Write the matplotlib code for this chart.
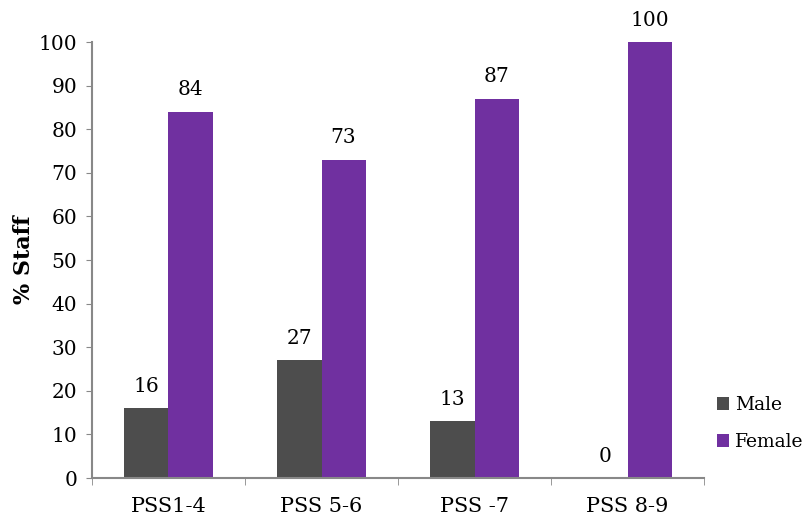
import matplotlib
matplotlib.use("Agg")
import matplotlib.pyplot as plt
import numpy as np

categories = ["PSS1-4", "PSS 5-6", "PSS -7", "PSS 8-9"]
male = [16, 27, 13, 0]
female = [84, 73, 87, 100]

plt.rcParams['font.family'] = ['DejaVu Serif']

fig = plt.figure(figsize=(8.09, 5.18), dpi=100)
ax = fig.add_axes([0.1137, 0.0772, 0.7566, 0.8417])

x = np.arange(len(categories))
w = 0.288
b1 = ax.bar(x - w / 2, male, w, color='#4d4d4d', label='Male')
b2 = ax.bar(x + w / 2, female, w, color='#7030a0', label='Female')

for bars in (b1, b2):
    for r in bars:
        h = r.get_height()
        ax.annotate('%d' % h, (r.get_x() + r.get_width() / 2, h),
                    xytext=(0, 9), textcoords='offset points',
                    ha='center', va='bottom', fontsize=14.5)

ax.set_xlim(-0.5, 3.5)
ax.set_ylim(0, 100)
ax.set_yticks(range(0, 101, 10))
ax.tick_params(axis='y', labelsize=14.5, color='#888888', length=4.5, pad=6)
ax.set_xticks(x)
ax.set_xticklabels(categories, fontsize=15)
ax.set_xticks(np.arange(-0.5, 4, 1), minor=True)
ax.tick_params(axis='x', which='major', length=0, pad=14)
ax.tick_params(axis='x', which='minor', length=5, color='#888888')

for s in ['top', 'right']:
    ax.spines[s].set_visible(False)
for s in ['left', 'bottom']:
    ax.spines[s].set_color('#888888')
    ax.spines[s].set_linewidth(1.5)

ax.set_ylabel('% Staff', fontsize=16, fontweight='bold', labelpad=3)

ax.legend(loc='center left', bbox_to_anchor=(1.003, 0.125), frameon=False,
          fontsize=13.5, handlelength=0.65, handleheight=0.65, handletextpad=0.3,
          labelspacing=1.0, borderaxespad=0.2)

fig.savefig('out.png', dpi=100)
